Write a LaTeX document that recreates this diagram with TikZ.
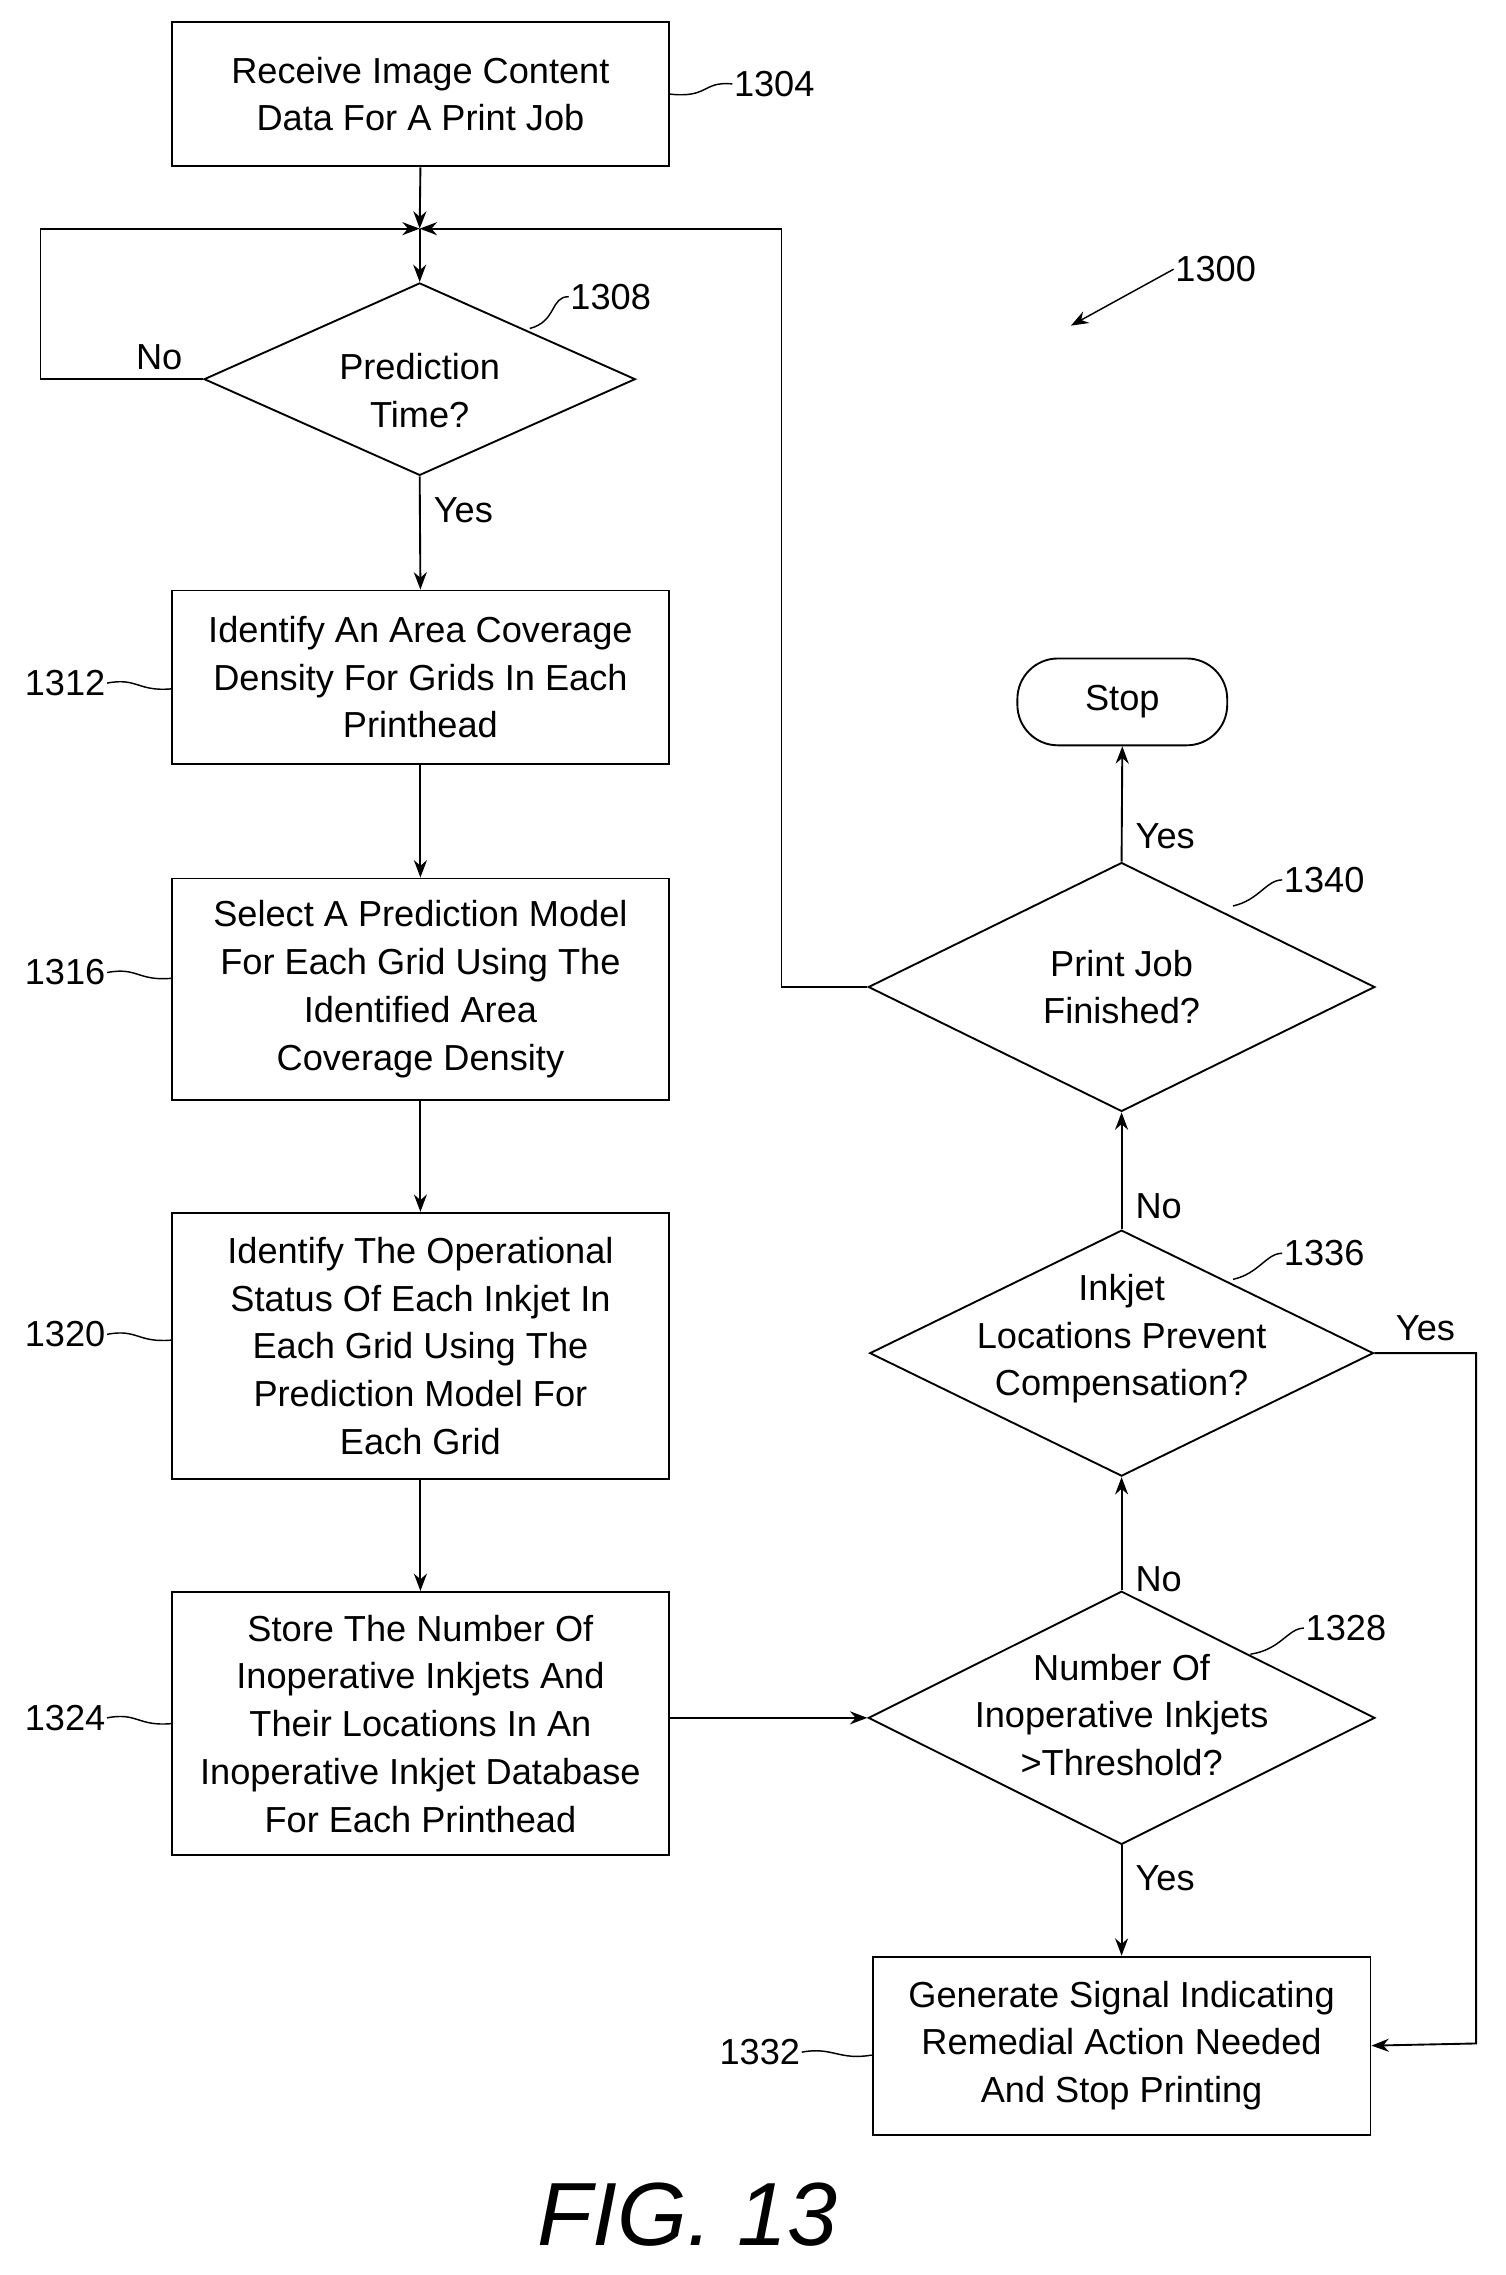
\documentclass[tikz,border=0pt]{standalone}
\usepackage{fontspec}
\setmainfont{Liberation Sans}
\usetikzlibrary{shapes.geometric,arrows.meta}
\begin{document}
\begin{tikzpicture}[x=1pt,y=-1pt,
  every node/.style={font=\fontsize{25}{33}\selectfont},
  box/.style={draw,line width=1.3pt,inner sep=0,align=center},
  dia/.style={draw,diamond,line width=1.3pt,inner sep=0},
  txt/.style={align=center,inner sep=0},
  lbl/.style={inner sep=1pt},
  ln/.style={line width=1.3pt},
  arr/.style={ln,-{Stealth[length=12pt,width=9pt]}},
  lead/.style={line width=1pt}]
\useasboundingbox (0,0) rectangle (1040,1572);
\node[box,minimum width=343,minimum height=100] (b1304) at (290.5,65) {Receive Image Content\\Data For A Print Job};
\coordinate (m) at (290,158);
\node[dia,minimum width=298,minimum height=133] (d1308) at (290,262) {};
\node[txt] at (290,270) {Prediction\\Time?};
\node[box,minimum width=343,minimum height=120] (b1312) at (290.5,468) {Identify An Area Coverage\\Density For Grids In Each\\Printhead};
\node[box,minimum width=343,minimum height=153] (b1316) at (290.5,683.5) {Select A Prediction Model\\For Each Grid Using The\\Identified Area\\Coverage Density};
\node[box,minimum width=343,minimum height=184] (b1320) at (290.5,930) {Identify The Operational\\Status Of Each Inkjet In\\Each Grid Using The\\Prediction Model For\\Each Grid};
\node[box,minimum width=343,minimum height=182] (b1324) at (290.5,1191) {Store The Number Of\\Inoperative Inkjets And\\Their Locations In An\\Inoperative Inkjet Database\\For Each Printhead};
\node[dia,minimum width=350,minimum height=175] (d1328) at (775,1187) {};
\node[txt] at (775,1185) {Number Of\\Inoperative Inkjets\\>Threshold?};
\node[box,minimum width=344,minimum height=123] (b1332) at (775,1413.5) {Generate Signal Indicating\\Remedial Action Needed\\And Stop Printing};
\node[dia,minimum width=348,minimum height=170] (d1336) at (775,935) {};
\node[txt] at (775,925) {Inkjet\\Locations Prevent\\Compensation?};
\node[dia,minimum width=350,minimum height=172] (d1340) at (775,682) {};
\node[txt] at (775,682) {Print Job\\Finished?};
\node[draw,line width=1.3pt,rounded corners=28pt,minimum width=145,minimum height=60,inner sep=0] (stop) at (775.5,485) {Stop};
% connectors
\draw[arr] (b1304.south) -- (m);
\draw[arr] (m) -- (d1308.north);
\draw[arr] (d1308.west) -- (28,262) -- (28,158) -- (m);
\draw[arr] (d1340.west) -- (540,682) -- (540,158) -- (m);
\draw[arr] (d1308.south) -- (b1312.north) node[pos=0.3,right=8pt,lbl]{Yes};
\draw[arr] (b1312) -- (b1316);
\draw[arr] (b1316) -- (b1320);
\draw[arr] (b1320) -- (b1324);
\draw[arr] (b1324.east |- d1328.west) -- (d1328.west);
\draw[arr] (d1328.south) -- (b1332.north) node[pos=0.3,right=8pt,lbl]{Yes};
\draw[arr] (d1328.north) -- (d1336.south) node[pos=0.1,right=8pt,lbl]{No};
\draw[arr] (d1336.east) -- (1020,935) -- (1020,1412) -- (b1332.east);
\node[lbl] at (985,918) {Yes};
\draw[arr] (d1336.north) -- (d1340.south) node[pos=0.2,right=8pt,lbl]{No};
\draw[arr] (d1340.north) -- (stop.south) node[pos=0.22,right=8pt,lbl]{Yes};
\node[lbl] at (110,247) {No};
% reference labels
\node[lbl] (l1304) at (535,58) {1304};
\draw[lead] (l1304.west) .. controls (485,56) and (490,68) .. (b1304.east |- 0,65);
\node[lbl] (l1308) at (422,205) {1308};
\draw[lead] (l1308.west) .. controls (380,205) and (385,222) .. (366,227);
\node[lbl] (l1312) at (45,472) {1312};
\draw[lead] (l1312.east) .. controls (95,468) and (95,478) .. (b1312.west |- 0,476);
\node[lbl] (l1316) at (45,672) {1316};
\draw[lead] (l1316.east) .. controls (95,668) and (95,678) .. (b1316.west |- 0,676);
\node[lbl] (l1320) at (45,922) {1320};
\draw[lead] (l1320.east) .. controls (95,918) and (95,928) .. (b1320.west |- 0,926);
\node[lbl] (l1324) at (45,1187) {1324};
\draw[lead] (l1324.east) .. controls (95,1183) and (95,1193) .. (b1324.west |- 0,1191);
\node[lbl] (l1332) at (525,1418) {1332};
\draw[lead] (l1332.east) .. controls (575,1414) and (580,1424) .. (b1332.west |- 0,1420);
\node[lbl] (l1328) at (930,1125) {1328};
\draw[lead] (l1328.west) .. controls (890,1125) and (885,1140) .. (864,1143);
\node[lbl] (l1336) at (915,866) {1336};
\draw[lead] (l1336.west) .. controls (875,866) and (870,880) .. (852,884);
\node[lbl] (l1340) at (915,608) {1340};
\draw[lead] (l1340.west) .. controls (875,608) and (870,622) .. (852,626);
\node[lbl] (l1300) at (840,186) {1300};
\draw[arr,line width=1pt] (l1300.west) -- (740,225);
\node[font=\fontsize{62}{70}\selectfont\itshape] (fig) at (475,1530) {FIG. 13};
\end{tikzpicture}
\end{document}
